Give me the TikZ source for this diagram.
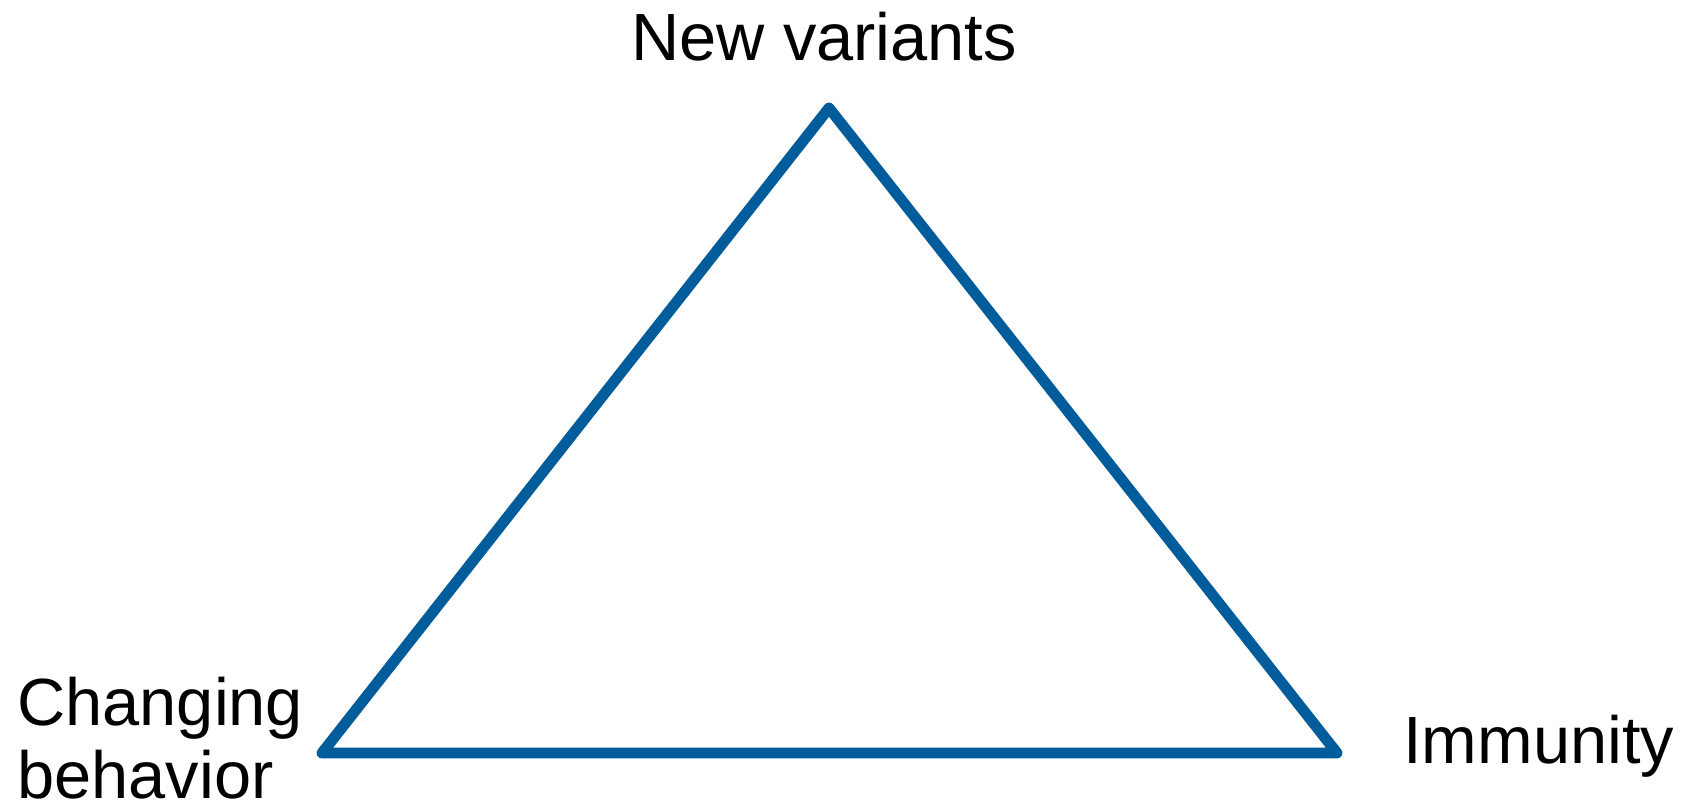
\documentclass[tikz,border=0pt]{standalone}
\usepackage{fontspec}
\setmainfont{Liberation Sans}
\usepackage{tikz}
\usetikzlibrary{positioning}
\definecolor{triblue}{RGB}{1,92,155}

\begin{document}
\begin{tikzpicture}[x=0.02cm, y=-0.02cm,
    label text/.style={inner sep=0pt, font=\fontsize{38}{41}\selectfont, text=black},
    side/.style={line width=6.2pt, triblue, line join=round, line cap=round}]
            \useasboundingbox (0,0) rectangle (1686,808);
            % Corners of the triangle
            \coordinate (top) at (829,108);
            \coordinate (left) at (322,753);
            \coordinate (right) at (1337,753);
            \draw[side] (top) -- (right) -- (left) -- cycle;
            % Labels
            \node[label text, anchor=base] (variants) at (824,60) {New variants};
            \node[label text, anchor=base west, align=left] (behavior) at (17,798) {Changing\\behavior};
            \node[label text, anchor=base west] (immunity) at (1403,763) {Immunity};
        \end{tikzpicture}
\end{document}
